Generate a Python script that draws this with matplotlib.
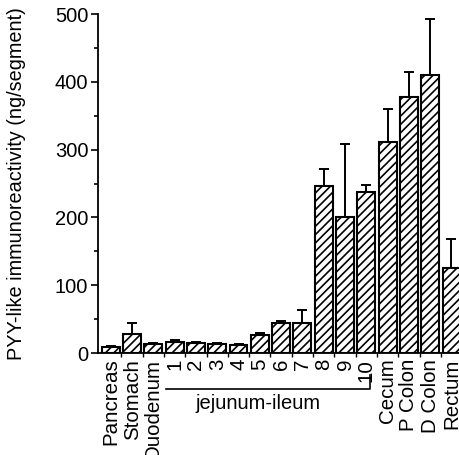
#!/usr/bin/env python
"""PYY-like immunoreactivity along the gut, hatched bars with SEM."""

import matplotlib

matplotlib.use("Agg")
import matplotlib.pyplot as plt
from matplotlib.ticker import MultipleLocator
import numpy as np

plt.rcParams["font.family"] = ["Liberation Sans", "DejaVu Sans"]
plt.rcParams["hatch.linewidth"] = 1.2

# segments along the gut
labels = ["Pancreas", "Stomach", "Duodenum",
          "1", "2", "3", "4", "5", "6", "7", "8", "9", "10",
          "Cecum", "P Colon", "D Colon", "Rectum"]
means = [9, 28, 14, 16, 15, 13, 12, 27, 45, 45, 247, 201, 237, 311, 378, 410, 126]
errors = [1, 17, 1, 3, 2, 2, 2, 2, 2, 18, 25, 107, 11, 49, 37, 83, 43]

fig = plt.figure(figsize=(4.6, 4.55), dpi=100)
ax = fig.add_axes([0.213, 0.224, 0.787, 0.745])

x = np.arange(len(labels))
ax.bar(x, means, width=0.84, color="white", edgecolor="black",
       linewidth=1.5, hatch="////", zorder=2)
ax.errorbar(x, means, yerr=[np.zeros(len(errors)), errors], fmt="none",
            ecolor="black", elinewidth=1.4, capsize=3.5, capthick=1.4, zorder=3)

ax.set_xlim(-0.6, 16.4)
ax.set_ylim(0, 500)
ax.yaxis.set_major_locator(MultipleLocator(100))
ax.yaxis.set_minor_locator(MultipleLocator(50))
ax.tick_params(axis="y", which="major", length=5, width=1.2, labelsize=14.5, pad=2)
ax.tick_params(axis="y", which="minor", length=3, width=1.2)

ax.set_xticks(x)
ax.set_xticklabels(labels, rotation=90, fontsize=14.8)
ax.set_xticks(x[:-1] + 0.5, minor=True)
ax.tick_params(axis="x", which="major", length=0, pad=4)
ax.tick_params(axis="x", which="minor", length=3, width=1.0)

for side in ("top", "right"):
    ax.spines[side].set_visible(False)
for side in ("left", "bottom"):
    ax.spines[side].set_linewidth(1.3)

ax.set_ylabel("PYY-like immunoreactivity (ng/segment)", fontsize=14.3)
ax.yaxis.set_label_coords(-0.2, 0.5)

# bracket under the jejunum-ileum segments
trans = ax.get_xaxis_transform()
ax.plot([2.6, 12.17, 12.17], [-0.106, -0.106, -0.065], color="black",
        linewidth=1.2, transform=trans, clip_on=False)
ax.text(6.9, -0.15, "jejunum-ileum", transform=trans, ha="center",
        va="center", fontsize=14.5)

fig.savefig("out.png", dpi=100)
